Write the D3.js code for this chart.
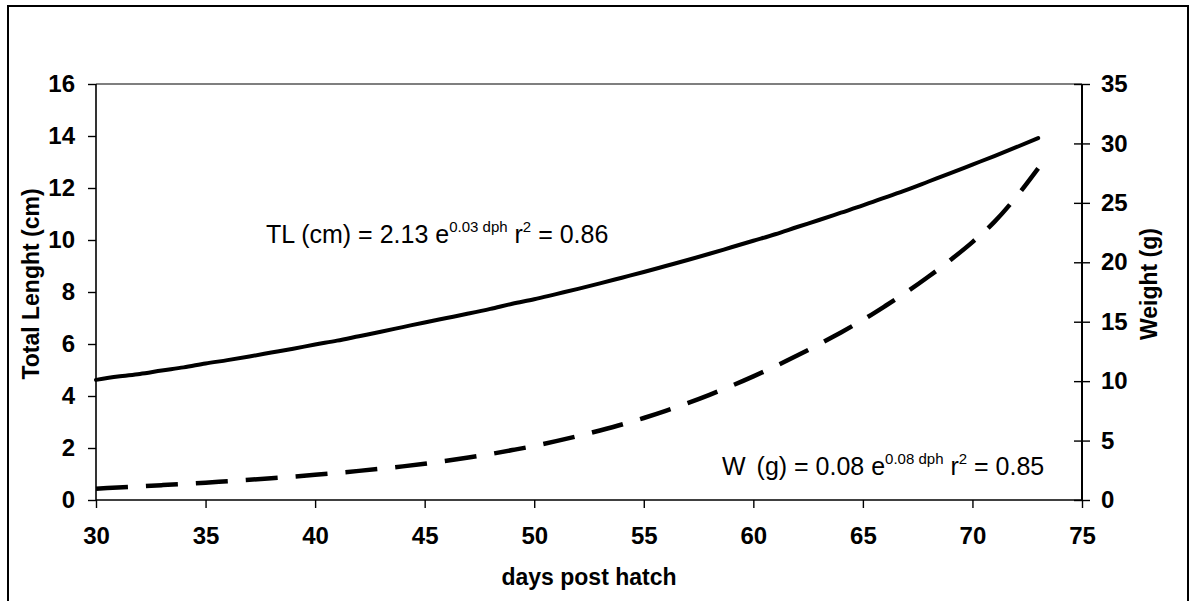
<!DOCTYPE html>
<html>
<head>
<meta charset="utf-8">
<script src="https://cdn.jsdelivr.net/npm/d3@7"></script>
<style>
  html, body { margin: 0; padding: 0; background: #fff; }
  svg { display: block; }
  text { font-family: "Liberation Sans", Arial, sans-serif; fill: #000; }
</style>
</head>
<body>
<svg id="chart" width="1192" height="601"></svg>
<script>
// ---- data ----
const days = [30,31,32,33,34,35,36,37,38,39,40,41,42,43,44,45,46,47,48,49,50,51,
              52,53,54,55,56,57,58,59,60,61,62,63,64,65,66,67,68,69,70,71,72,73];
const totalLength = [4.62,4.75,4.85,4.98,5.1,5.25,5.38,5.52,5.67,5.82,5.98,6.13,6.3,6.47,
              6.65,6.83,7.0,7.17,7.35,7.55,7.72,7.92,8.12,8.33,8.55,8.77,9.0,9.23,9.47,
              9.72,9.97,10.22,10.5,10.77,11.05,11.33,11.63,11.93,12.25,12.57,12.9,13.23,13.57,13.92];
const weight = [0.95,1.05,1.15,1.25,1.35,1.45,1.58,1.7,1.83,1.97,2.12,2.28,2.45,2.63,2.83,
              3.05,3.3,3.57,3.87,4.2,4.55,4.95,5.38,5.85,6.35,6.9,7.5,8.15,8.85,9.6,10.4,
              11.25,12.15,13.1,14.1,15.15,16.3,17.5,18.8,20.2,21.7,23.4,25.5,27.9];
const xTicks = [30,35,40,45,50,55,60,65,70,75];
const yLeftTicks = [0,2,4,6,8,10,12,14,16];
const yRightTicks = [0,5,10,15,20,25,30,35];

// ---- layout ----
const svg = d3.select("#chart");
const L = 96, R = 1082, T = 84, B = 500;

const x = d3.scaleLinear().domain([30, 75]).range([L, R]);
const yL = d3.scaleLinear().domain([0, 16]).range([B, T]);
const yR = d3.scaleLinear().domain([0, 35]).range([B, T]);

// outer frame
svg.append("rect").attr("x", 8).attr("y", 6).attr("width", 1180).attr("height", 620)
  .attr("fill", "none").attr("stroke", "#000").attr("stroke-width", 2);

// plot area top border
svg.append("line").attr("x1", L).attr("x2", R).attr("y1", T).attr("y2", T)
  .attr("stroke", "#000").attr("stroke-width", 1.2);

const tickFont = "bold 24px 'Liberation Sans', Arial, sans-serif";
const titleFont = "bold 23px 'Liberation Sans', Arial, sans-serif";

// x axis
const gx = svg.append("g").attr("transform", `translate(0,${B})`)
  .call(d3.axisBottom(x).tickValues(xTicks).tickSize(8).tickPadding(19).tickFormat(d3.format("d")));
// left axis
const gl = svg.append("g").attr("transform", `translate(${L},0)`)
  .call(d3.axisLeft(yL).tickValues(yLeftTicks).tickSize(8).tickPadding(13).tickFormat(d3.format("d")));
// right axis (ticks cross)
const gr = svg.append("g").attr("transform", `translate(${R},0)`)
  .call(d3.axisRight(yR).tickValues(yRightTicks).tickSize(8).tickPadding(11).tickFormat(d3.format("d")));
gr.selectAll(".tick line").attr("x1", -8);

[gx, gl, gr].forEach(g => {
  g.select(".domain").attr("stroke", "#000").attr("stroke-width", 1.6);
  g.selectAll(".tick line").attr("stroke", "#000").attr("stroke-width", 1.4);
  g.selectAll(".tick text").style("font", tickFont).attr("fill", "#000");
});
gx.select(".domain").attr("d", `M${L},0H${R}`);
gl.select(".domain").attr("d", `M0,${B}V${T}`);
gr.select(".domain").attr("d", `M0,${B}V${T}`).attr("stroke-width", 2);

// axis titles
svg.append("text").attr("x", (L + R) / 2).attr("y", 585).attr("text-anchor", "middle")
  .style("font", titleFont).text("days post hatch");
svg.append("text").attr("transform", `translate(39,284) rotate(-90)`)
  .attr("text-anchor", "middle").style("font", titleFont).text("Total Lenght (cm)");
svg.append("text").attr("transform", `translate(1157,284) rotate(-90)`)
  .attr("text-anchor", "middle").style("font", titleFont).text("Weight (g)");

// lines
const lineTL = d3.line().x((d, i) => x(days[i])).y(d => yL(d)).curve(d3.curveMonotoneX);
const lineW = d3.line().x((d, i) => x(days[i])).y(d => yR(d)).curve(d3.curveMonotoneX);

svg.append("path").datum(totalLength).attr("d", lineTL)
  .attr("fill", "none").attr("stroke", "#000").attr("stroke-width", 4)
  .attr("stroke-linejoin", "round").attr("stroke-linecap", "round");
svg.append("path").datum(weight).attr("d", lineW)
  .attr("fill", "none").attr("stroke", "#000").attr("stroke-width", 4.5)
  .attr("stroke-dasharray", "32,18").attr("stroke-linecap", "butt");

// annotations
function equation(xp, yp, parts) {
  const t = svg.append("text").attr("x", xp).attr("y", yp)
    .style("font-family", "'Liberation Sans', Arial, sans-serif").style("font-size", "25px");
  parts.forEach(p => {
    const s = t.append("tspan").text(p.t);
    if (p.sup) s.style("font-size", "15px").attr("dy", -11);
    if (p.down) s.attr("dy", 11);
    if (p.dx) s.attr("dx", p.dx);
  });
}
equation(266, 243, [
  {t: "TL (cm) = 2.13 e"}, {t: "0.03 dph", sup: true}, {t: " r", down: true},
  {t: "2", sup: true}, {t: " = 0.86", down: true}
]);
equation(722, 475, [
  {t: "W"}, {t: " (g) = 0.08 e", dx: 4}, {t: "0.08 dph", sup: true}, {t: " r", down: true},
  {t: "2", sup: true}, {t: " = 0.85", down: true}
]);
</script>
</body>
</html>
